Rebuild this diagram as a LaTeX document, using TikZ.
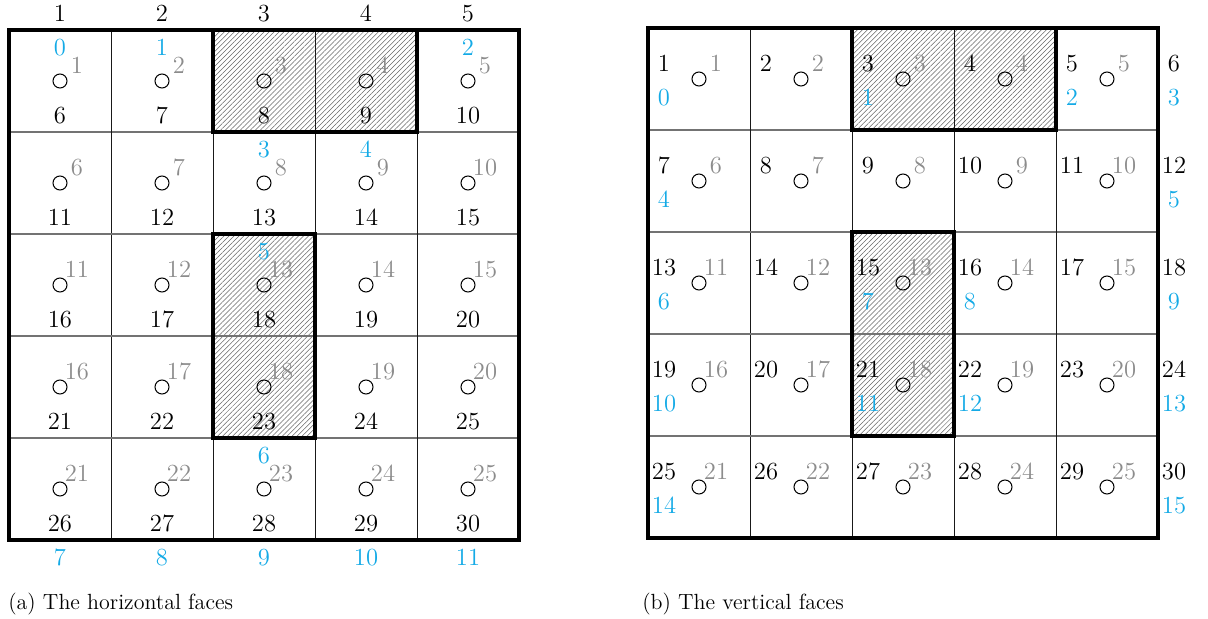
\documentclass[tikz,border=0pt]{standalone}
\usepackage{fontspec}
\usetikzlibrary{patterns.meta}
\definecolor{fblue}{RGB}{20,170,230}
\definecolor{fgray}{RGB}{140,140,140}
\tikzset{
  num/.style={font=\fontsize{14}{16}\selectfont, inner sep=0pt, anchor=base},
  blk/.style={num, text=black},
  gry/.style={num, text=fgray},
  blu/.style={num, text=fblue},
  cent/.style={circle, draw, line width=0.6pt, minimum size=0.28cm, inner sep=0pt},
  hatch/.style={pattern={Lines[angle=45,distance=2pt,line width=0.3pt]}, pattern color=black!60},
  thinh/.style={line width=0.6pt, black!55},
  thinv/.style={line width=0.5pt, black!90},
  outl/.style={line width=1.9pt, black},
  capt/.style={font=\fontsize{12.5}{15}\selectfont, inner sep=0pt, anchor=base west}
}
\begin{document}
\begin{tikzpicture}[x=0.02cm,y=-0.02cm]
\useasboundingbox (0,0) rectangle (1208,619);
% grids
\foreach \ox/\oy in {9/30,648/28}{
  \foreach \c/\r in {2/0,3/0,2/2,2/3}
    \fill[hatch] (\ox+102*\c,\oy+102*\r) rectangle ++(102,102);
  \foreach \k in {1,...,4}{
    \draw[thinh] (\ox,\oy+102*\k) -- ++(510,0);
    \draw[thinv] (\ox+102*\k,\oy) -- ++(0,510);
  }
  \draw[outl] (\ox,\oy) rectangle ++(510,510);
  \draw[outl] (\ox+204,\oy) rectangle ++(204,102);
  \draw[outl] (\ox+204,\oy+204) rectangle ++(102,204);
}
% left grid
\foreach \r in {0,...,4}{
  \foreach \c in {0,...,4}{
    \pgfmathtruncatemacro\g{5*\r+\c+1}
    \pgfmathtruncatemacro\b{5*\r+\c+6}
    \node[cent] (La\r\c) at (60+102*\c,81+102*\r) {};
    \node[gry] (Lg\r\c) at (77+102*\c,73+102*\r) {\g};
    \node[blk] (Lb\r\c) at (60+102*\c,123+102*\r) {\b};
  }
}
\foreach \c in {0,...,4}{
  \pgfmathtruncatemacro\t{\c+1}
  \pgfmathtruncatemacro\u{\c+7}
  \node[blk] (Lt\c) at (60+102*\c,21) {\t};
  \node[blu] (Lu\c) at (60+102*\c,565) {\u};
}
\foreach \c/\r/\t in {0/0/0,1/0/1,4/0/2,2/1/3,3/1/4,2/2/5,2/4/6}
  \node[blu] (Lq\t) at (60+102*\c,55+102*\r) {\t};
% right grid
\foreach \r in {0,...,4}{
  \foreach \c in {0,...,4}{
    \pgfmathtruncatemacro\g{5*\r+\c+1}
    \node[cent] (Ra\r\c) at (699+102*\c,79+102*\r) {};
    \node[gry] (Rg\r\c) at (716+102*\c,71+102*\r) {\g};
  }
  \foreach \c in {0,...,5}{
    \pgfmathtruncatemacro\b{6*\r+\c+1}
    \node[blk] (Rb\r\c) at (664+102*\c,71+102*\r) {\b};
  }
}
\foreach \c/\r/\t in {0/0/0,2/0/1,4/0/2,5/0/3,0/1/4,5/1/5,0/2/6,2/2/7,3/2/8,5/2/9,0/3/10,2/3/11,3/3/12,5/3/13,0/4/14,5/4/15}
  \node[blu] (Rq\t) at (664+102*\c,105+102*\r) {\t};
% captions
\node[capt] (capa) at (8,609) {(a) The horizontal faces};
\node[capt] (capb) at (642,609) {(b) The vertical faces};
\end{tikzpicture}
\end{document}
